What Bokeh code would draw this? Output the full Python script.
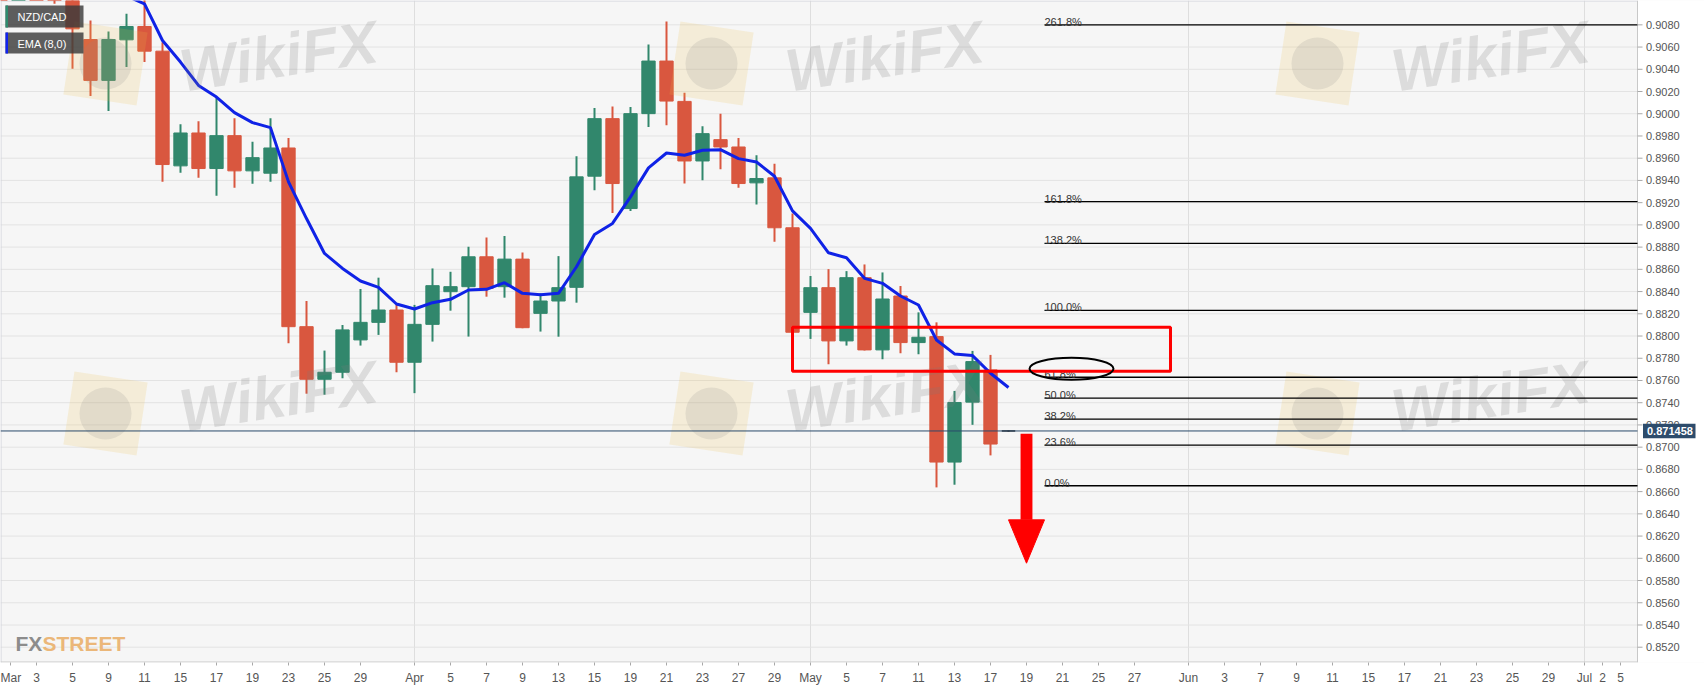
import pandas as pd
from bokeh.plotting import figure
from bokeh.models import ColumnDataSource, FixedTicker
from bokeh.core.properties import value
from bokeh.embed import file_html
from bokeh.resources import INLINE

# ---------------- data ----------------
dates = ["2021-03-01", "2021-03-02", "2021-03-03", "2021-03-04", "2021-03-05",
         "2021-03-08", "2021-03-09", "2021-03-10", "2021-03-11", "2021-03-12",
         "2021-03-15", "2021-03-16", "2021-03-17", "2021-03-18", "2021-03-19",
         "2021-03-22", "2021-03-23", "2021-03-24", "2021-03-25", "2021-03-26",
         "2021-03-29", "2021-03-30", "2021-03-31", "2021-04-01", "2021-04-02",
         "2021-04-05", "2021-04-06", "2021-04-07", "2021-04-08", "2021-04-09",
         "2021-04-12", "2021-04-13", "2021-04-14", "2021-04-15", "2021-04-16",
         "2021-04-19", "2021-04-20", "2021-04-21", "2021-04-22", "2021-04-23",
         "2021-04-26", "2021-04-27", "2021-04-28", "2021-04-29", "2021-04-30",
         "2021-05-03", "2021-05-04", "2021-05-05", "2021-05-06", "2021-05-07",
         "2021-05-10", "2021-05-11", "2021-05-12", "2021-05-13", "2021-05-14",
         "2021-05-17", "2021-05-18"]

opens = [0.9165, 0.9155, 0.9170, 0.9140, 0.9118,
         0.90668, 0.90300, 0.90665, 0.90785, 0.90563,
         0.89531, 0.89827, 0.89507, 0.89803, 0.89486,
         0.89465, 0.89692, 0.88084, 0.87611, 0.87674,
         0.87965, 0.88123, 0.88234, 0.87764, 0.88105,
         0.88399, 0.88444, 0.88713, 0.88444, 0.88692,
         0.88204, 0.88315, 0.88438, 0.89438, 0.89956,
         0.89147, 0.90001, 0.90474, 0.90111, 0.89575,
         0.89767, 0.89701, 0.89378, 0.89423, 0.88974,
         0.88213, 0.88435, 0.87956, 0.88525, 0.87875,
         0.88360, 0.87941, 0.87995, 0.86866, 0.87405,
         0.87695, 0.871458]
highs = [0.9190, 0.9185, 0.9195, 0.9160, 0.9128,
         0.90839, 0.90740, 0.90899, 0.91030, 0.90644,
         0.89905, 0.89932, 0.90150, 0.89959, 0.89749,
         0.89959, 0.89782, 0.88315, 0.87869, 0.88099,
         0.88423, 0.88525, 0.88280, 0.88280, 0.88608,
         0.88578, 0.88803, 0.88887, 0.88899, 0.88752,
         0.88384, 0.88719, 0.89617, 0.90051, 0.90066,
         0.90060, 0.90623, 0.90830, 0.90189, 0.89887,
         0.90001, 0.89782, 0.89626, 0.89551, 0.89102,
         0.88540, 0.88602, 0.88584, 0.88644, 0.88572,
         0.88450, 0.88213, 0.88123, 0.87506, 0.87866,
         0.87830, 0.87150]
lows = [0.9140, 0.9130, 0.9125, 0.9099, 0.90405,
        0.90159, 0.90025, 0.90420, 0.90465, 0.89387,
        0.89468, 0.89423, 0.89261, 0.89333, 0.89369,
        0.89387, 0.87935, 0.87481, 0.87472, 0.87620,
        0.87914, 0.88010, 0.87674, 0.87486, 0.87950,
        0.88228, 0.87995, 0.88354, 0.88345, 0.88070,
        0.88040, 0.87994, 0.88300, 0.89312, 0.89108,
        0.89126, 0.89881, 0.89896, 0.89372, 0.89402,
        0.89500, 0.89333, 0.89183, 0.88848, 0.88030,
        0.87974, 0.87746, 0.87914, 0.87870, 0.87791,
        0.87845, 0.87836, 0.86638, 0.86662, 0.87201,
        0.86926, 0.87140]
closes = [0.9155, 0.9170, 0.9140, 0.9118, 0.90764,
          0.90300, 0.90668, 0.90785, 0.90563, 0.89543,
          0.89827, 0.89507, 0.89803, 0.89486, 0.89605,
          0.89692, 0.88084, 0.87611, 0.87674, 0.88055,
          0.88123, 0.88234, 0.87764, 0.88105, 0.88453,
          0.88444, 0.88713, 0.88429, 0.88692, 0.88075,
          0.88315, 0.88435, 0.89432, 0.89956, 0.89372,
          0.90001, 0.90474, 0.90114, 0.89575, 0.89821,
          0.89701, 0.89372, 0.89417, 0.88974, 0.88034,
          0.88435, 0.87956, 0.88525, 0.87875, 0.88333,
          0.87941, 0.87989, 0.86866, 0.87402, 0.87770,
          0.87028, 0.871458]
ema8 = [0.9160, 0.9158, 0.9155, 0.9148, 0.9138,
        0.9126, 0.9116, 0.9106, 0.90989, 0.90659,
        0.90465, 0.90255, 0.90150, 0.90010, 0.89920,
        0.89875, 0.89387, 0.89057, 0.88743, 0.88608,
        0.88495, 0.88438, 0.88288, 0.88243, 0.88300,
        0.88330, 0.88414, 0.88420, 0.88480, 0.88384,
        0.88372, 0.88384, 0.88623, 0.88914, 0.89013,
        0.89252, 0.89513, 0.89647, 0.89626, 0.89671,
        0.89677, 0.89596, 0.89566, 0.89438, 0.89126,
        0.88968, 0.88749, 0.88704, 0.88519, 0.88474,
        0.88360, 0.88279, 0.87964, 0.87839, 0.87824,
        0.87665, 0.87537]

tick_dates = ["2021-03-01", "2021-03-03", "2021-03-05", "2021-03-09", "2021-03-11",
              "2021-03-15", "2021-03-17", "2021-03-19", "2021-03-23", "2021-03-25",
              "2021-03-29", "2021-04-01", "2021-04-05", "2021-04-07", "2021-04-09",
              "2021-04-13", "2021-04-15", "2021-04-19", "2021-04-21", "2021-04-23",
              "2021-04-27", "2021-04-29", "2021-05-03", "2021-05-05", "2021-05-07",
              "2021-05-11", "2021-05-13", "2021-05-17", "2021-05-19", "2021-05-21",
              "2021-05-25", "2021-05-27", "2021-06-01", "2021-06-03", "2021-06-07",
              "2021-06-09", "2021-06-11", "2021-06-15", "2021-06-17", "2021-06-21",
              "2021-06-23", "2021-06-25", "2021-06-29", "2021-07-01", "2021-07-02",
              "2021-07-05"]
tick_labels = ["Mar", "3", "5", "9", "11", "15", "17", "19", "23", "25", "29",
               "Apr", "5", "7", "9", "13", "15", "19", "21", "23", "27", "29",
               "May", "5", "7", "11", "13", "17", "19", "21", "25", "27",
               "Jun", "3", "7", "9", "11", "15", "17", "21", "23", "25", "29",
               "Jul", "2", "5"]
month_starts = ["2021-04-01", "2021-05-03", "2021-06-01", "2021-07-01"]

y_ticks = [0.852, 0.854, 0.856, 0.858, 0.860, 0.862, 0.864, 0.866, 0.868, 0.870,
           0.872, 0.874, 0.876, 0.878, 0.880, 0.882, 0.884, 0.886, 0.888, 0.890,
           0.892, 0.894, 0.896, 0.898, 0.900, 0.902, 0.904, 0.906, 0.908]
y_tick_labels = ["%.4f" % t for t in y_ticks]

fib_labels = ["261.8%", "161.8%", "138.2%", "100.0%", "61.8%", "50.0%", "38.2%", "23.6%", "0.0%"]
fib_levels = [0.9080, 0.8921, 0.88833, 0.88231, 0.87629, 0.87441, 0.87252, 0.87018, 0.86653]
fib_start = "2021-05-20"

last_price = 0.871458
zone_start, zone_end = "2021-04-30", "2021-05-31"
zone_top, zone_bottom = 0.88078, 0.87683
ellipse_dates = ("2021-05-21", "2021-05-24")
ellipse_level = 0.87705
arrow_date = "2021-05-19"
arrow_top, arrow_head, arrow_tip = 0.87120, 0.86346, 0.85956

# ---------------- calendar / scale helpers ----------------
cal = pd.bdate_range("2021-03-01", "2021-07-09")
pos = {d.strftime("%Y-%m-%d"): i for i, d in enumerate(cal)}
PX_DAY = 18.0          # pixels per trading day
PX_UNIT = 11114.0      # pixels per price unit
REF_Y = (0.908, 24.33)
PLOT_R = 1637          # right edge of the price area (px)
FRAME_W, FRAME_H = 1704, 662


def xd(px):
    return px / PX_DAY


def yv(py):
    return REF_Y[0] - (py - REF_Y[1]) / PX_UNIT


xs = [pos[d] for d in dates]
GREEN, RED, DOJI = "#31876c", "#d9573f", "#2b2b2b"
colors = []
for o, c in zip(opens, closes):
    if c > o + 1e-6:
        colors.append(GREEN)
    elif c < o - 1e-6:
        colors.append(RED)
    else:
        colors.append(DOJI)

src = ColumnDataSource(dict(
    x=xs, open=opens, high=highs, low=lows, close=closes,
    top=[max(o, c) for o, c in zip(opens, closes)],
    bottom=[min(o, c) for o, c in zip(opens, closes)],
    color=colors,
))

FONT = value("Liberation Sans")
XR = xd(PLOT_R)

p = figure(frame_width=FRAME_W, frame_height=FRAME_H,
           x_range=(0, xd(FRAME_W)), y_range=(yv(FRAME_H), yv(0)),
           output_backend="svg", toolbar_location=None, y_axis_location=None,
           title=None, min_border_left=0, min_border_top=0,
           min_border_right=0, min_border_bottom=24)
p.background_fill_color = "#f6f6f6"
p.border_fill_color = "white"
p.outline_line_color = None

# x axis (bokeh axis, ticks only)
tick_pos = [pos[d] if pos[d] > 0 else xd(10) for d in tick_dates]
p.xaxis.ticker = FixedTicker(ticks=tick_pos)
p.xaxis.major_label_overrides = {tp: lab for tp, lab in zip(tick_pos, tick_labels)}
ax = p.xaxis[0]
ax.axis_line_color = None
ax.major_tick_line_color = "#a8a8a8"
ax.major_tick_in = 0
ax.major_tick_out = 3
ax.minor_tick_line_color = None
ax.major_label_text_color = "#555555"
ax.major_label_text_font = "Liberation Sans"
ax.major_label_text_font_size = "12px"
ax.major_label_standoff = 5

p.xgrid.ticker = FixedTicker(ticks=[pos[d] for d in month_starts])
p.xgrid.grid_line_color = "#dedede"
p.ygrid.visible = False

# white axis area on the right
p.quad(left=XR, right=xd(FRAME_W + 20), top=yv(-20), bottom=yv(FRAME_H + 20),
       fill_color="white", line_alpha=0)

# horizontal grid lines
n = len(y_ticks)
p.segment(x0=[0] * n, y0=y_ticks, x1=[XR] * n, y1=y_ticks, line_color="#e3e3e3", line_width=1)

# frame borders (left/top/right/bottom of price area)
p.segment(x0=[xd(0.5), 0, XR, 0], y0=[yv(0), yv(0.5), yv(0), yv(FRAME_H - 0.5)],
          x1=[xd(0.5), XR, XR, XR], y1=[yv(FRAME_H), yv(0.5), yv(FRAME_H), yv(FRAME_H - 0.5)],
          line_color=["#d2d4dc", "#d2d4dc", "#c8c8c8", "#c8c8c8"], line_width=1)

# candles
p.segment(x0="x", y0="low", x1="x", y1="high", line_color="color", line_width=2, source=src)
p.vbar(x="x", width=0.74, top="top", bottom="bottom", fill_color="color",
       line_color="color", line_width=1, source=src)

# EMA
p.line(xs, ema8, line_color="#0f22e6", line_width=3)

# watermark tiles
wm_x, wm_y, lg_x, lg_y = [], [], [], []
for i in range(3):
    for j in range(2):
        wm_x.append(xd(278 + 606 * i))
        wm_y.append(yv(56 + 340 * j))
        lg_x.append(xd(105 + 606 * i))
        lg_y.append(yv(63 + 350 * j))
p.rect(lg_x, lg_y, width=74, height=74, width_units="screen", height_units="screen",
       angle=-0.15, fill_color="#f0c048", fill_alpha=0.17, line_alpha=0)
p.scatter(lg_x, lg_y, size=52, marker="circle", fill_color="#8a8a8a", fill_alpha=0.17, line_alpha=0)
p.text(wm_x, wm_y, text=["WikiFX"] * len(wm_x), angle=0.15, text_font=FONT,
       text_font_style="bold italic", text_font_size="60px", text_color="#7a7a7a",
       text_alpha=0.21, text_align="center", text_baseline="middle")

# current price line
p.segment(x0=[0], y0=[last_price], x1=[XR], y1=[last_price], line_color="#2a4a6b", line_width=1)

# Fibonacci levels
fx0 = pos[fib_start]
m = len(fib_levels)
p.segment(x0=[fx0] * m, y0=fib_levels, x1=[XR] * m, y1=fib_levels,
          line_color="black", line_width=1.3)
p.text([fx0] * m, fib_levels, text=fib_labels, text_font=FONT,
       text_font_size="11px", text_color="#333333", text_baseline="alphabetic", y_offset=-3)

# resistance zone
p.quad(left=pos[zone_start], right=pos[zone_end], top=zone_top, bottom=zone_bottom,
       fill_alpha=0, line_color="#ff0000", line_width=3)

# ellipse around 61.8%
p.ellipse(x=(pos[ellipse_dates[0]] + pos[ellipse_dates[1]]) / 2, y=ellipse_level,
          width=84, height=22, width_units="screen", height_units="screen",
          fill_alpha=0, line_color="black", line_width=2)

# down arrow
a0 = pos[arrow_date]
p.quad(left=a0 - 0.33, right=a0 + 0.33, top=arrow_top, bottom=arrow_head,
       fill_color="#ff0000", line_alpha=0)
p.patch([a0 - 1.0, a0 + 1.0, a0], [arrow_head, arrow_head, arrow_tip],
        fill_color="#ff0000", line_color="#ff0000", line_width=1)

# legend boxes (top-left)
p.quad(left=[xd(5), xd(5)], right=[xd(83), xd(83)], top=[yv(5), yv(32)], bottom=[yv(27), yv(53)],
       fill_color="#3a3a3a", fill_alpha=0.82, line_alpha=0)
p.quad(left=[xd(5), xd(5)], right=[xd(7.5), xd(7.5)], top=[yv(5), yv(32)], bottom=[yv(27), yv(53)],
       fill_color=["#2e8b6e", "#1022f0"], line_alpha=0)
p.text([xd(17), xd(17)], [yv(16.5), yv(43)], text=["NZD/CAD", "EMA (8,0)"], text_font=FONT,
       text_font_size="11px", text_color="white", text_baseline="middle")

# FXSTREET logo
p.text([xd(15)], [yv(643)], text=["FX"], text_font=FONT,
       text_font_style="bold", text_font_size="21px", text_color="#8c8c8c", text_baseline="alphabetic")
p.text([xd(42)], [yv(643)], text=["STREET"], text_font=FONT,
       text_font_style="bold", text_font_size="21px", text_color="#ebb779", text_baseline="alphabetic")

# right price axis (drawn by hand so the last-price tag can sit on it)
p.segment(x0=[XR] * n, y0=y_ticks, x1=[xd(PLOT_R + 5)] * n, y1=y_ticks,
          line_color="#a8a8a8", line_width=1)
p.text([xd(PLOT_R + 8.5)] * n, y_ticks, text=y_tick_labels, text_font=FONT,
       text_font_size="11px", text_color="#555555", text_baseline="middle", text_align="left")

# last price tag
p.quad(left=xd(1642.5), right=xd(1695), top=yv(423.3), bottom=yv(437.7),
       fill_color="#2d4c6c", line_alpha=0)
p.text([xd(1646.5)], [last_price], text=["%.6f" % last_price], text_font=FONT,
       text_font_style="bold", text_font_size="11px", text_color="white", text_baseline="middle")

open("out.html", "w").write(file_html(p, INLINE))
